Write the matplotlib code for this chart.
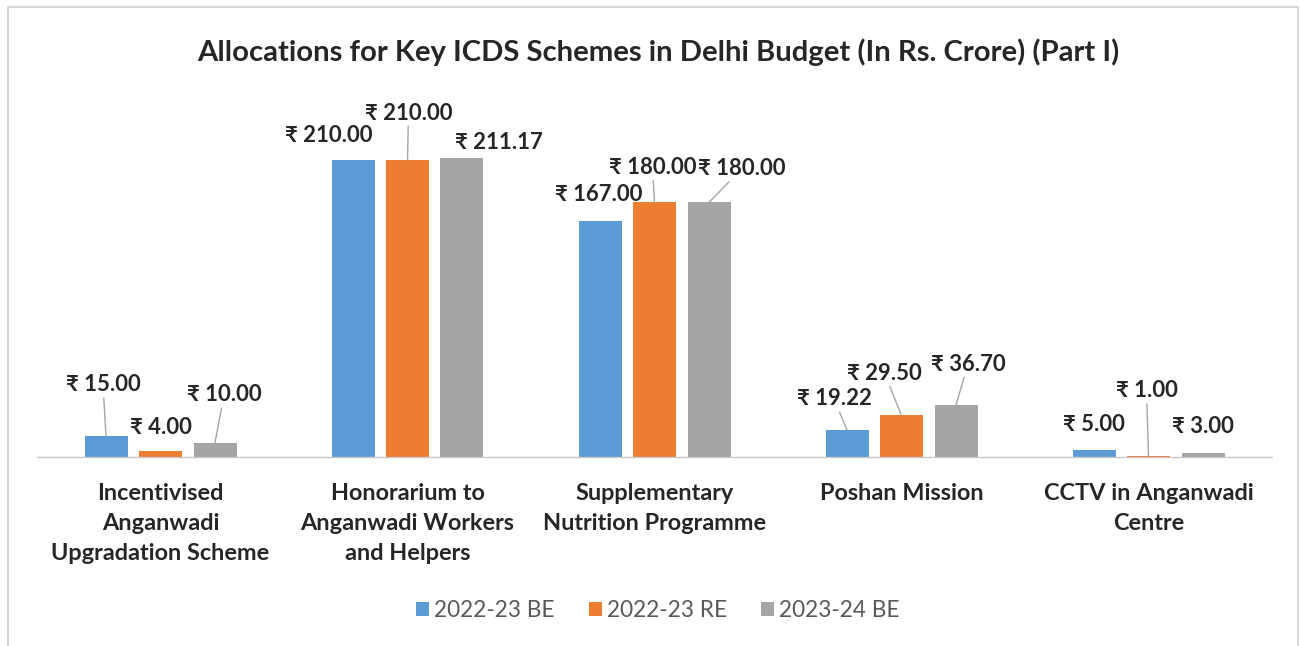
import matplotlib
matplotlib.use("Agg")
import matplotlib.pyplot as plt
from matplotlib.patches import Patch, Rectangle
import numpy as np

# ---------------- data ----------------
categories = [
    "Incentivised\nAnganwadi\nUpgradation Scheme",
    "Honorarium to\nAnganwadi Workers\nand Helpers",
    "Supplementary\nNutrition Programme",
    "Poshan Mission",
    "CCTV in Anganwadi\nCentre",
]
series_names = ["2022-23 BE", "2022-23 RE", "2023-24 BE"]
be_2022_23 = [15.00, 210.00, 167.00, 19.22, 5.00]
re_2022_23 = [4.00, 210.00, 180.00, 29.50, 1.00]
be_2023_24 = [10.00, 211.17, 180.00, 36.70, 3.00]
title = "Allocations for Key ICDS Schemes in Delhi Budget (In Rs. Crore) (Part I)"

# ---------------- style / layout ----------------
colors = ["#5B9BD5", "#ED7D31", "#A5A5A5"]
text_dark = "#262626"
# data-label placement per series, per category: (dx px, dy px, leader line)
label_layout = [
    [(-3, 53, True), (-24, 27, False), (-1, 28, False), (-13, 33, True), (0, 27, False)],
    [(0, 26, False), (1, 49, True), (-2, 37, True), (-17, 44, True), (-2, 67, True)],
    [(9, 50, True), (37, 18, False), (33, 36, True), (12, 43, True), (0, 28, False)],
]

plt.rcParams["font.family"] = ["Lato", "Noto Sans", "DejaVu Sans"]

W, H = 1300, 646
fig = plt.figure(figsize=(W / 100, H / 100), dpi=100)
fig.patch.set_facecolor("white")
renderer = fig.canvas.get_renderer()


def fit_size(s, target_px, weight, base=20.0):
    t = fig.text(0, 0, s, fontsize=base, fontweight=weight)
    w = t.get_window_extent(renderer).width
    t.remove()
    return base * target_px / w


def fit_linespacing(fs, weight, target_px, ls=1.2):
    t1 = fig.text(0, 0, "Ag", fontsize=fs, fontweight=weight, linespacing=ls)
    t2 = fig.text(0, 0, "Ag\nAg", fontsize=fs, fontweight=weight, linespacing=ls)
    d = t2.get_window_extent(renderer).height - t1.get_window_extent(renderer).height
    t1.remove()
    t2.remove()
    return ls * target_px / d


title_fs = fit_size(title, 920, "bold")
cat_fs = fit_size("Upgradation Scheme", 218, "bold")
lab_fs = fit_size("\u20b9 210.00", 88, "bold")
leg_fs = fit_size("2022-23 BE", 120, "normal")
cat_ls = fit_linespacing(cat_fs, "bold", 31)

# axes placement (pixel based)
x_left, x_right = 37, 1272
y_base = 457
px_per_unit = 297 / 210.0
ymax = 260
ax_h = ymax * px_per_unit
ax = fig.add_axes([x_left / W, 1 - y_base / H, (x_right - x_left) / W, ax_h / H])

x = np.arange(len(categories))
bar_w = 43 / ((x_right - x_left) / len(categories))
step = 54.5 / ((x_right - x_left) / len(categories))
all_series = [be_2022_23, re_2022_23, be_2023_24]

for si, (vals, col) in enumerate(zip(all_series, colors)):
    xpos = x + (si - 1) * step
    ax.bar(xpos, vals, width=bar_w, color=col, zorder=2)
    for ci, (xp, v) in enumerate(zip(xpos, vals)):
        dx, dy, line = label_layout[si][ci]
        kw = {}
        if line:
            kw["arrowprops"] = dict(arrowstyle="-", color="#A6A6A6", lw=1.0,
                                    shrinkA=0, shrinkB=0)
        ax.annotate("\u20b9 %.2f" % v, xy=(xp, v), xytext=(dx, dy),
                    textcoords="offset pixels", ha="center", va="center_baseline",
                    fontsize=lab_fs, fontweight="bold", color=text_dark,
                    annotation_clip=False, zorder=3, **kw)

ax.set_xlim(-0.5, len(categories) - 0.5)
ax.set_ylim(0, ymax)
ax.set_xticks(x)
ax.set_xticklabels(categories, fontsize=cat_fs, fontweight="bold", color=text_dark,
                   linespacing=cat_ls)
ax.tick_params(axis="x", length=0, pad=(483 - y_base) * 0.72)
ax.set_yticks([])
for s in ["left", "right", "top"]:
    ax.spines[s].set_visible(False)
ax.spines["bottom"].set_color("#C8C8C8")
ax.spines["bottom"].set_linewidth(1.0)
ax.patch.set_alpha(0)

# title
fig.text(658 / W, 1 - 50 / H, title, ha="center", va="center_baseline",
         fontsize=title_fs, fontweight="bold", color=text_dark)

# legend
em = leg_fs * 100 / 72.0
handles = [Patch(facecolor=c, edgecolor="none") for c in colors]
fig.legend(handles, series_names, loc="center", bbox_to_anchor=(658 / W, 1 - 610.5 / H),
           ncol=3, frameon=False, fontsize=leg_fs, labelcolor="#595959",
           handlelength=13 / em, handleheight=13 / em, handletextpad=5 / em,
           columnspacing=34 / em, borderpad=0, borderaxespad=0)

# outer chart border
fig.add_artist(Rectangle((8 / W, -0.05), (1298 - 8) / W, (1 - 7 / H) + 0.05,
                         transform=fig.transFigure, fill=False,
                         edgecolor="#D9D9D9", lw=1.5))

fig.savefig("out.png", dpi=100, facecolor="white")
